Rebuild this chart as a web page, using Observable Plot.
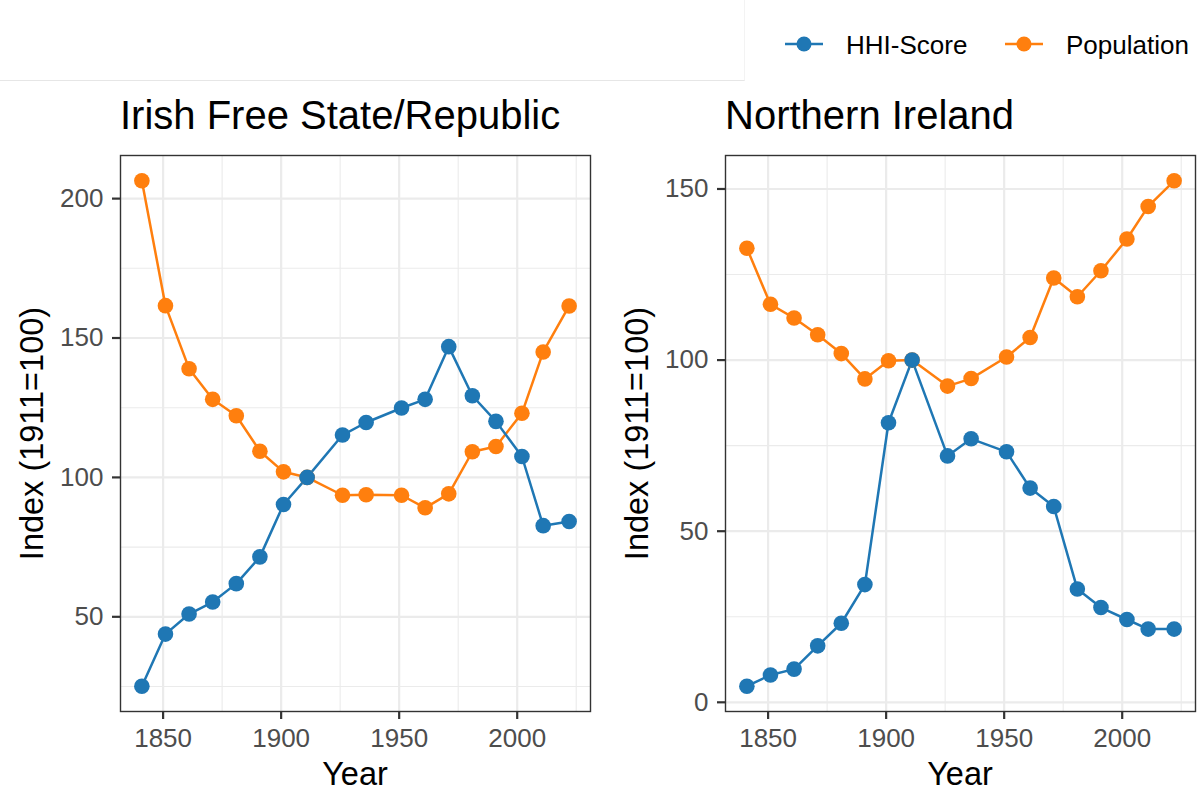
<!DOCTYPE html>
<html>
<head>
<meta charset="utf-8">
<script src="https://cdn.jsdelivr.net/npm/d3@7"></script>
<script src="https://cdn.jsdelivr.net/npm/@observablehq/plot@0.6"></script>
<style>
  html, body { margin: 0; padding: 0; background: #fff; }
  #root { position: relative; width: 1197px; height: 791px; overflow: hidden; background: #fff;
          font-family: "Liberation Sans", Arial, Helvetica, sans-serif; }
  #root > svg, #root > div { position: absolute; }
</style>
</head>
<body>
<div id="root"></div>
<script>
// ---- data ----
const years = [1841, 1851, 1861, 1871, 1881, 1891, 1901, 1911, 1926, 1936, 1951, 1961, 1971, 1981, 1991, 2002, 2011, 2022];
const ireHHI = [25.1, 43.8, 51.0, 55.3, 61.9, 71.5, 90.3, 100, 115.2, 119.7, 124.9, 128.0, 146.9, 129.3, 120.1, 107.5, 82.7, 84.2];
const irePop = [206.4, 161.6, 139.0, 128.0, 122.1, 109.4, 102.0, 100, 93.6, 93.8, 93.6, 89.1, 94.1, 109.2, 111.1, 123.0, 145.0, 161.5];
const niHHI = [4.7, 8.0, 9.7, 16.5, 23.1, 34.4, 81.7, 100, 72.0, 77.0, 73.2, 62.6, 57.2, 33.1, 27.7, 24.2, 21.4, 21.4];
const niPop = [132.7, 116.3, 112.3, 107.4, 101.9, 94.5, 99.8, 100, 92.4, 94.6, 100.9, 106.6, 124.0, 118.5, 126.1, 135.4, 144.9, 152.4];

const seriesNames = ["HHI-Score", "Population"];
const seriesColors = ["#1f77b4", "#ff7f0e"];
const panelTitles = ["Irish Free State/Republic", "Northern Ireland"];
const xLabel = "Year";
const yLabel = "Index (1911=100)";

const xTicks = [1850, 1900, 1950, 2000];
const xMinor = [1875, 1925, 1975, 2025];
const ireYTicks = [50, 100, 150, 200];
const ireYMinor = [25, 75, 125, 175];
const niYTicks = [0, 50, 100, 150];
const niYMinor = [25, 75, 125];

const FONT = '"Liberation Sans", Arial, Helvetica, sans-serif';
const root = document.getElementById("root");

function expand([lo, hi]) { const p = (hi - lo) * 0.05; return [lo - p, hi + p]; }

function panel(hhi, pop, yTicks, yMinor, width, marginRight) {
  const rows = [];
  years.forEach((yr, i) => rows.push({year: yr, value: pop[i], series: seriesNames[1]}));
  years.forEach((yr, i) => rows.push({year: yr, value: hhi[i], series: seriesNames[0]}));
  return Plot.plot({
    width, height: 791,
    marginLeft: 120, marginRight, marginTop: 155, marginBottom: 80,
    style: {fontFamily: FONT, fontSize: "26px", background: "transparent", overflow: "visible"},
    x: {domain: expand(d3.extent(years))},
    y: {domain: expand(d3.extent(hhi.concat(pop)))},
    color: {domain: seriesNames, range: seriesColors},
    marks: [
      Plot.gridX(xMinor, {stroke: "#ebebeb", strokeOpacity: 1, strokeWidth: 1.1}),
      Plot.gridY(yMinor, {stroke: "#ebebeb", strokeOpacity: 1, strokeWidth: 1.1}),
      Plot.gridX(xTicks, {stroke: "#ebebeb", strokeOpacity: 1, strokeWidth: 2.2}),
      Plot.gridY(yTicks, {stroke: "#ebebeb", strokeOpacity: 1, strokeWidth: 2.2}),
      Plot.line(rows, {x: "year", y: "value", z: "series", stroke: "series", strokeWidth: 2.5}),
      Plot.dot(rows, {x: "year", y: "value", fill: "series", r: 7.8}),
      Plot.frame({stroke: "#333333", strokeWidth: 1.4}),
      Plot.axisX(xTicks, {tickSize: 8, tickPadding: 9, stroke: "#333333", strokeWidth: 2.2,
                          fill: "#4d4d4d", fontSize: 26, label: null, tickFormat: d => String(d)}),
      Plot.axisY(yTicks, {tickSize: 8, tickPadding: 9, stroke: "#333333", strokeWidth: 2.2,
                          fill: "#4d4d4d", fontSize: 26, label: null, tickFormat: d => String(d)})
    ]
  });
}

// faint top-left box
const box = document.createElement("div");
Object.assign(box.style, {left: "0px", top: "0px", width: "745px", height: "81px",
  borderBottom: "1.5px solid #e6e6e6", borderRight: "1px solid #f3f3f3", boxSizing: "border-box"});
root.appendChild(box);

const left = panel(ireHHI, irePop, ireYTicks, ireYMinor, 600, 10);
left.style.left = "0px"; left.style.top = "0px";
root.appendChild(left);

const right = panel(niHHI, niPop, niYTicks, niYMinor, 592, 2);
right.style.left = "605px"; right.style.top = "0px";
root.appendChild(right);

// overlay text: titles, axis titles, legend
const ns = "http://www.w3.org/2000/svg";
const ov = document.createElementNS(ns, "svg");
ov.setAttribute("width", 1197); ov.setAttribute("height", 791);
ov.style.left = "0px"; ov.style.top = "0px"; ov.style.pointerEvents = "none";
root.appendChild(ov);
function txt(x, y, s, size, opts = {}) {
  const t = document.createElementNS(ns, "text");
  t.setAttribute("x", x); t.setAttribute("y", y);
  t.setAttribute("font-family", FONT); t.setAttribute("font-size", size);
  t.setAttribute("fill", opts.fill || "#000");
  if (opts.anchor) t.setAttribute("text-anchor", opts.anchor);
  if (opts.rotate) t.setAttribute("transform", `rotate(-90 ${x} ${y})`);
  t.textContent = s;
  ov.appendChild(t);
}
[0, 605].forEach((dx, i) => {
  txt(120 + dx, 129, panelTitles[i], 40);
  txt(355 + dx, 785, xLabel, 32.5, {anchor: "middle"});
  txt(43 + dx, 433.5, yLabel, 32.5, {anchor: "middle", rotate: true});
});
// legend
const legendItems = [
  {name: seriesNames[0], color: seriesColors[0], x0: 785, tx: 846},
  {name: seriesNames[1], color: seriesColors[1], x0: 1005, tx: 1066}
];
legendItems.forEach(it => {
  const l = document.createElementNS(ns, "line");
  l.setAttribute("x1", it.x0); l.setAttribute("x2", it.x0 + 38);
  l.setAttribute("y1", 44); l.setAttribute("y2", 44);
  l.setAttribute("stroke", it.color); l.setAttribute("stroke-width", 2.5);
  ov.appendChild(l);
  const c = document.createElementNS(ns, "circle");
  c.setAttribute("cx", it.x0 + 19); c.setAttribute("cy", 44); c.setAttribute("r", 7.5);
  c.setAttribute("fill", it.color);
  ov.appendChild(c);
  txt(it.tx, 53.5, it.name, 26);
});
</script>
</body>
</html>
